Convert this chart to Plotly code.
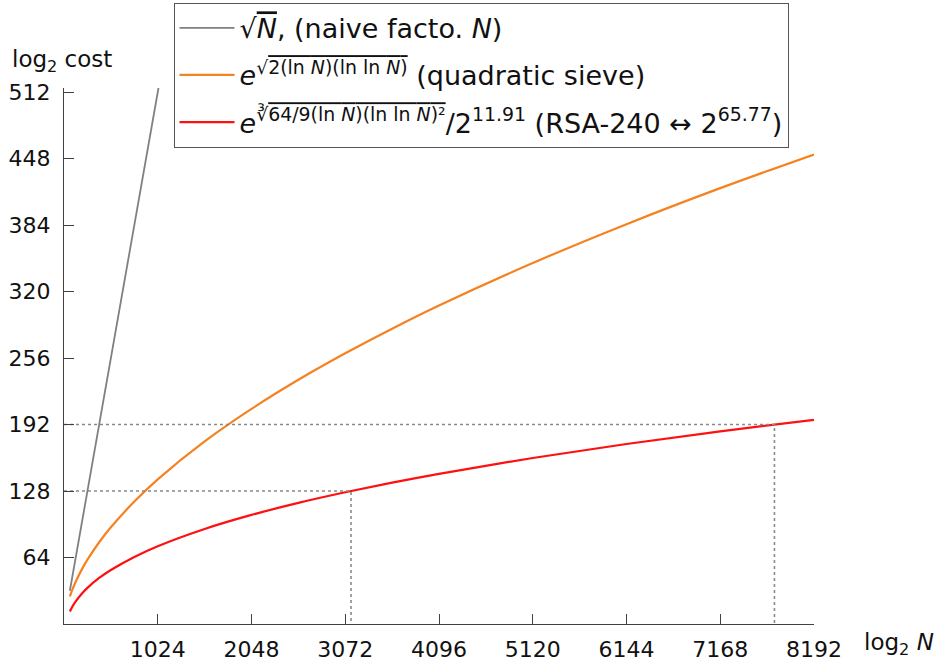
import plotly.graph_objects as go

# ---- data ----
log2n = [64, 80, 96, 128, 192, 256, 384, 512, 768, 1024, 1536, 2048, 2560,
         3072, 3584, 4096, 5120, 6144, 7168, 8192]
qs_cost = [26.5, 30.5, 34.1, 40.7, 52.1, 61.9, 78.7, 93.1, 117.9, 139.3, 175.8,
           207.1, 235.1, 260.6, 284.3, 306.6, 347.5, 384.9, 419.6, 452.0]
gnfs_cost = [12.0, 14.8, 17.4, 21.7, 28.9, 34.8, 44.3, 52.0, 64.6, 74.9, 91.5,
             105.0, 116.6, 126.8, 136.1, 144.6, 159.8, 173.3, 185.4, 196.6]
naive_log2n = [64, 1032]
naive_cost = [32, 516]

ref_cost = [128, 192]          # horizontal dotted guides
ref_log2n = [3135, 7760]       # where the red curve meets them

x_ticks = [1024, 2048, 3072, 4096, 5120, 6144, 7168, 8192]
y_ticks = [64, 128, 192, 256, 320, 384, 448, 512]

GRAY = "#808080"
ORANGE = "#f58220"
RED = "#ff1010"
OL = "text-decoration:overline"

fig = go.Figure()

fig.add_trace(go.Scatter(
    x=naive_log2n, y=naive_cost, mode="lines",
    line=dict(color=GRAY, width=1.8),
    name=f"√<span style='{OL}'><i>N</i></span>, (naive facto. <i>N</i>)",
    legendgroup="a"))
fig.add_trace(go.Scatter(
    x=log2n, y=qs_cost, mode="lines", line_shape="spline",
    line=dict(color=ORANGE, width=2.2),
    name=(f"<i>e</i><sup>√<span style='{OL}'>2(ln <i>N</i>)(ln ln <i>N</i>)</span></sup>"
          " (quadratic sieve)"),
    legendgroup="b"))
fig.add_trace(go.Scatter(
    x=log2n, y=gnfs_cost, mode="lines", line_shape="spline",
    line=dict(color=RED, width=2.2),
    name=(f"<i>e</i><sup>∛<span style='{OL}'>64/9(ln <i>N</i>)(ln ln <i>N</i>)²</span></sup>"
          "/2<sup>11.91</sup> (RSA-240 ↔ 2<sup>65.77</sup>)"),
    legendgroup="c"))

for c, n in zip(ref_cost, ref_log2n):
    fig.add_trace(go.Scatter(
        x=[0, n, n], y=[c, c, 0], mode="lines",
        line=dict(color="#8a8a8a", width=1.6, dash="dot"),
        showlegend=False, hoverinfo="skip"))

axis_common = dict(
    showgrid=False, zeroline=False, showline=True, linecolor="#404040",
    linewidth=1, ticks="inside", ticklen=10, tickcolor="#404040", tickwidth=1,
    tickfont=dict(family="DejaVu Sans", size=22, color="#111"),
    automargin=False,
)

fig.update_layout(
    width=941, height=661,
    margin=dict(l=64, r=127, t=88, b=37, autoexpand=False),
    paper_bgcolor="white", plot_bgcolor="white",
    font=dict(family="DejaVu Sans", size=22, color="#111"),
    xaxis=dict(range=[0, 8192], tickvals=x_ticks,
               ticktext=[str(v) for v in x_ticks], ticklabelstandoff=6,
               **axis_common),
    yaxis=dict(range=[0, 516], tickvals=y_ticks,
               ticktext=[str(v) for v in y_ticks], ticklabelstandoff=8,
               **axis_common),
    legend=dict(
        x=0.146, y=1.159, xanchor="left", yanchor="top",
        bgcolor="white", bordercolor="#555", borderwidth=1,
        font=dict(family="DejaVu Sans", size=27, color="#111"),
        tracegroupgap=9, itemwidth=55,
    ),
    annotations=[
        dict(text="log<sub>2</sub> cost", xref="paper", yref="paper",
             x=-0.072, y=1.05, xanchor="left", yanchor="middle",
             showarrow=False, font=dict(size=23)),
        dict(text="log<sub>2</sub> <i>N</i>", xref="paper", yref="paper",
             x=1.064, y=-0.038, xanchor="left", yanchor="middle",
             showarrow=False, font=dict(size=23)),
    ],
)

fig.write_html(
    "out.html",
    config={"displayModeBar": False},
    post_script="document.body.style.margin='0';document.body.style.overflow='hidden';",
)
